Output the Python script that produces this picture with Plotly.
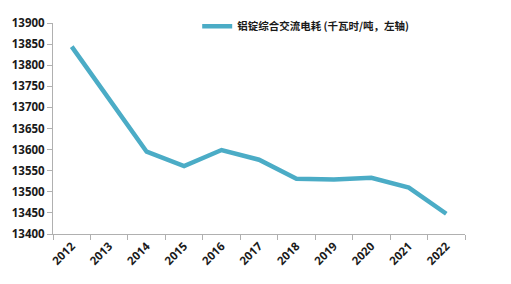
import plotly.graph_objects as go

years = ["2012", "2013", "2014", "2015", "2016", "2017", "2018", "2019", "2020", "2021", "2022"]
power = [13844, 13720, 13595, 13561, 13599, 13576, 13531, 13529, 13533, 13510, 13448]
series_name = "铝锭综合交流电耗 (千瓦时/吨，左轴)"
y_ticks = [13400, 13450, 13500, 13550, 13600, 13650, 13700, 13750, 13800, 13850, 13900]

fig = go.Figure()
fig.add_trace(go.Scatter(
    x=years, y=power, mode="lines", name=series_name,
    line=dict(color="#4BACC6", width=4.5),
    showlegend=True,
))

tick_font = dict(family="Open Sans, Noto Sans CJK SC, sans-serif", size=11.5, color="#1a1a1a", weight="bold")

fig.update_layout(
    width=511, height=284,
    margin=dict(l=49, r=46, t=19, b=50),
    paper_bgcolor="white", plot_bgcolor="white",
    showlegend=True,
    legend=dict(
        x=0.35, y=0.985, xanchor="left", yanchor="middle",
        font=dict(family="Noto Sans CJK SC, sans-serif", size=10.5, color="#1a1a1a", weight="bold"),
        bgcolor="rgba(0,0,0,0)", itemwidth=30,
    ),
    xaxis=dict(
        type="category", tickson="boundaries",
        ticks="outside", ticklen=5, tickcolor="#b0b0b0",
        showline=True, linecolor="#b0b0b0", linewidth=1,
        showgrid=False, tickangle=-45, tickfont=tick_font,
        range=[-0.5, 10.5],
    ),
    yaxis=dict(
        range=[13400, 13900], tickvals=y_ticks, tickformat="d",
        ticks="outside", ticklen=5, tickcolor="#b0b0b0",
        showline=True, linecolor="#b0b0b0", linewidth=1,
        showgrid=False, zeroline=False, tickfont=tick_font,
    ),
)

fig.write_html("out.html")
